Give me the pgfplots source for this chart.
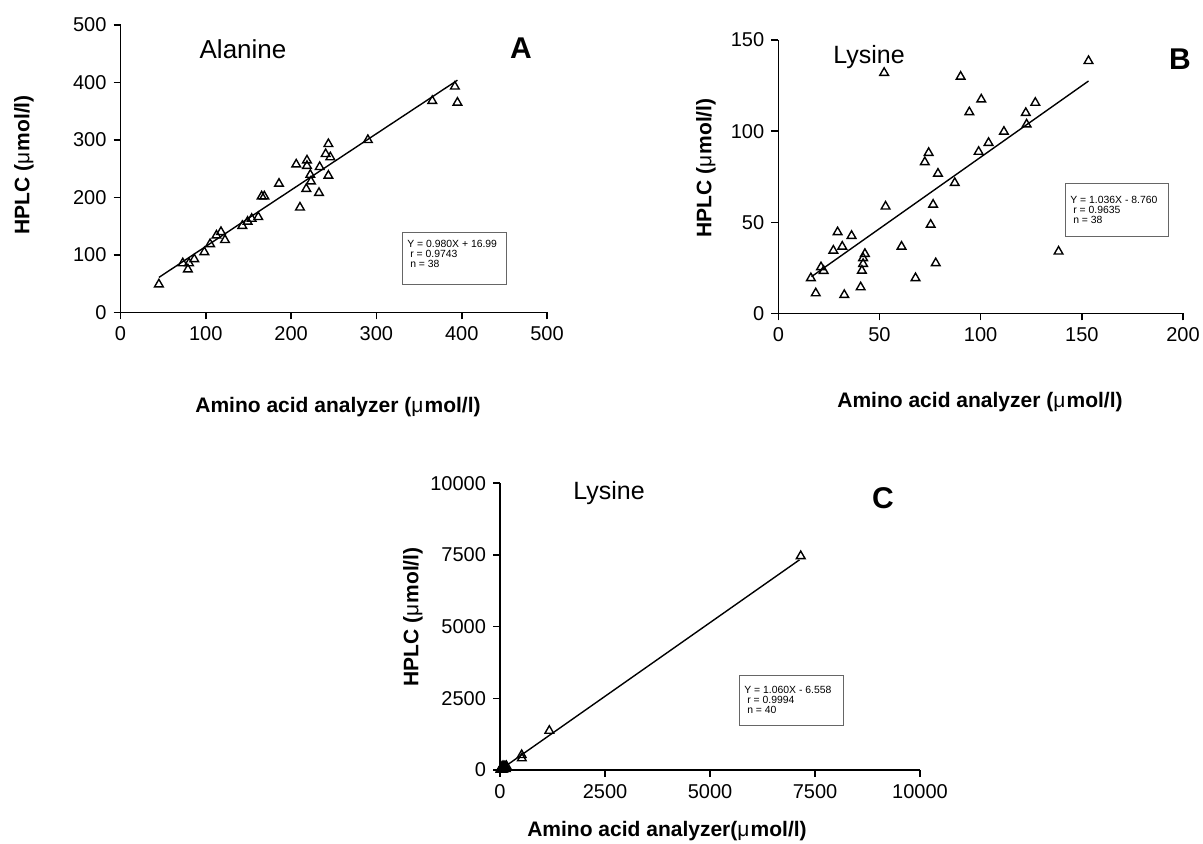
\documentclass[border=0pt]{standalone}
\usepackage{fontspec}
\setmainfont{Liberation Sans}
\usepackage{pgfplots}
\pgfplotsset{compat=1.18}

\newcommand{\unitlab}{(\textmd{μ}\kern0.6pt mol/l)}

\pgfplotsset{
  panel/.style={
    scale only axis,
    anchor=south west,
    axis lines=left,
    axis line style={-, line width=0.8pt},
    tick align=outside,
    xtick pos=left, ytick pos=left,
    major tick length=3.5pt,
    tick style={black, line width=0.8pt},
    ticklabel style={font=\fontsize{10}{10}\selectfont},
    /pgf/number format/assume math mode=true,
    /pgf/number format/1000 sep={},
    scaled ticks=false,
    clip=false,
  },
  pts/.style={only marks, mark=triangle, mark size=2.5pt,
    mark options={line width=0.7pt, black}},
  fit/.style={black, line width=0.7pt, no marks},
}

\begin{document}
\begin{tikzpicture}
\path[use as bounding box] (0,0) rectangle (601.5pt,422pt);

% ---- A: Alanine
\begin{axis}[panel, at={(60.25pt,265.75pt)}, width=213.25pt, height=143.75pt,
  xmin=0, xmax=500, ymin=0, ymax=500,
  xtick={0,100,...,500}, ytick={0,100,...,500}]
\addplot[pts] coordinates {
 (392,393) (365.5,368) (395,365) (290,300) (243.7,293) (240.5,275.6)
 (246,270) (218.6,264.5) (206,257.5) (218.6,255) (233.5,253) (222.5,239.5)
 (223.3,228) (243.7,238) (185.8,224) (217.8,215) (232.7,208) (165.5,202)
 (168.6,202) (210.4,182.6) (161.5,166) (153.8,163) (149,158) (142.8,150.7)
 (117.8,140) (112.5,134) (122.5,126) (105,119) (98.3,105) (86.5,92.7)
 (80.3,85.7) (73,85.7) (79,75) (45,49)
};
\addplot[fit] coordinates {(45,61) (395,404)};
\end{axis}

% ---- B: Lysine
\begin{axis}[panel, at={(389.15pt,265.25pt)}, width=202.35pt, height=136.75pt,
  xmin=0, xmax=200, ymin=0, ymax=150,
  xtick={0,50,...,200}, ytick={0,50,...,150}]
\addplot[pts] coordinates {
 (52.3,132) (90.1,129.9) (153.3,138.5) (94.4,110.4) (100.3,117.4) (122.3,110)
 (127,115.6) (122.7,103.7) (111.5,99.7) (103.9,93.6) (99,88.7) (74.3,88.1)
 (72.4,83) (78.9,76.7) (87.2,71.6) (53,58.7) (76.5,59.7) (75.3,48.7)
 (29.3,44.6) (36.2,42.6) (31.6,36.7) (27.2,34.5) (60.9,36.7) (42.8,32.7)
 (41.9,30.4) (41.9,27.2) (41.3,23.5) (77.8,27.6) (138.5,34) (21.1,25.4)
 (22.4,23.4) (16.1,19.4) (67.8,19.4) (40.7,14.4) (18.5,11.1) (32.6,10.2)
};
\addplot[fit] coordinates {(16.4,20.2) (153.3,127.5)};
\end{axis}

% ---- C: Lysine, full range
\begin{axis}[panel, at={(250pt,37pt)}, width=210pt, height=143.35pt,
  xmin=0, xmax=10000, ymin=0, ymax=10000,
  xtick={0,2500,...,10000}, ytick={0,2500,...,10000}]
\addplot[pts] coordinates {
 (52.3,132) (90.1,129.9) (153.3,138.5) (94.4,110.4) (100.3,117.4) (122.3,110)
 (127,115.6) (122.7,103.7) (111.5,99.7) (103.9,93.6) (99,88.7) (74.3,88.1)
 (72.4,83) (78.9,76.7) (87.2,71.6) (53,58.7) (76.5,59.7) (75.3,48.7)
 (29.3,44.6) (36.2,42.6) (31.6,36.7) (27.2,34.5) (60.9,36.7) (42.8,32.7)
 (41.9,30.4) (41.9,27.2) (41.3,23.5) (77.8,27.6) (138.5,34) (21.1,25.4)
 (22.4,23.4) (16.1,19.4) (67.8,19.4) (40.7,14.4) (18.5,11.1) (32.6,10.2)
 (516,523) (520,408) (1174,1370) (7160,7462)
};
\addplot[fit] coordinates {(0,0) (7130,7330)};
\end{axis}

% ---- titles and axis labels
\begin{scope}[every node/.style={inner sep=0pt}]
\node[font=\fontsize{13}{13}\selectfont] at (121.5pt,397.5pt) {Alanine};
\node[font=\fontsize{15}{15}\selectfont\bfseries] at (260.5pt,398pt) {A};
\node[font=\fontsize{10.5}{11}\selectfont\bfseries, rotate=90] at (12pt,339.5pt) {HPLC \unitlab};
\node[font=\fontsize{10.5}{11}\selectfont\bfseries] at (169pt,218.5pt) {Amino acid analyzer \unitlab};

\node[font=\fontsize{12.5}{12}\selectfont] at (434.5pt,393.5pt) {Lysine};
\node[font=\fontsize{15}{15}\selectfont\bfseries] at (590pt,392.5pt) {B};
\node[font=\fontsize{10.5}{11}\selectfont\bfseries, rotate=90] at (353pt,338pt) {HPLC \unitlab};
\node[font=\fontsize{10.5}{11}\selectfont\bfseries] at (490pt,221pt) {Amino acid analyzer \unitlab};

\node[font=\fontsize{12.5}{12}\selectfont] at (304.5pt,175.5pt) {Lysine};
\node[font=\fontsize{15}{15}\selectfont\bfseries] at (441.5pt,173pt) {C};
\node[font=\fontsize{10.5}{11}\selectfont\bfseries, rotate=90] at (206.5pt,113.5pt) {HPLC \unitlab};
\node[font=\fontsize{10.5}{11}\selectfont\bfseries] at (333.5pt,6.5pt) {Amino acid analyzer\unitlab};
\end{scope}

% ---- regression boxes
\begin{scope}[every node/.style={inner sep=0pt, anchor=west, align=left,
    font=\fontsize{5.2}{5.2}\selectfont}]
\draw[gray!80!black, line width=0.4pt] (201pt,306pt) rectangle (253pt,280pt);
\node at (203.5pt,295pt) {Y = 0.980X + 16.99\\\ r = 0.9743\\\ n = 38};

\draw[gray!80!black, line width=0.4pt] (532.5pt,330.5pt) rectangle (584pt,304pt);
\node at (535pt,317pt) {Y = 1.036X - 8.760\\\ r = 0.9635\\\ n = 38};

\draw[gray!80!black, line width=0.4pt] (369.5pt,84.5pt) rectangle (421.5pt,59.5pt);
\node at (372pt,72pt) {Y = 1.060X - 6.558\\\ r = 0.9994\\\ n = 40};
\end{scope}
\end{tikzpicture}
\end{document}
